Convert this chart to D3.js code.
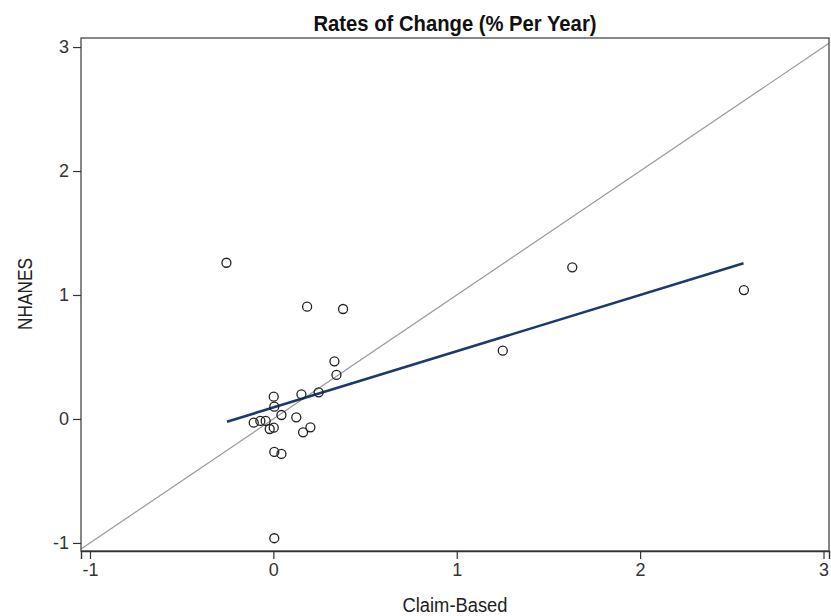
<!DOCTYPE html>
<html><head><meta charset="utf-8">
<script src="https://cdn.jsdelivr.net/npm/d3@7"></script>
<style>body{margin:0;background:#fff;font-family:"Liberation Sans",Arial,sans-serif;}</style>
</head><body><svg id="c" width="831" height="616"></svg>
<script>
const claimBased = [-0.256,0.184,0.380,0.333,0.344,0.247,0.153,0.002,0.005,0.044,0.125,-0.107,-0.071,-0.042,-0.020,0.002,0.162,0.202,0.005,0.044,0.005,1.630,2.566,1.251];
const nhanes     = [1.26,0.906,0.887,0.465,0.355,0.215,0.199,0.180,0.099,0.032,0.013,-0.030,-0.016,-0.016,-0.081,-0.070,-0.108,-0.067,-0.266,-0.282,-0.962,1.223,1.040,0.551];
const fitX = [-0.253, 2.564];
const fitY = [-0.022, 1.256];
const xTicks = [-1,0,1,2,3];
const yTicks = [-1,0,1,2,3];
const title = "Rates of Change (% Per Year)";
const xLabel = "Claim-Based";
const yLabel = "NHANES";

const L=81,R=829,T=38,B=551;
const svg=d3.select("#c");
const x=d3.scaleLinear().domain([-1.049,3.03]).range([L,R]);
const y=d3.scaleLinear().domain([-1.065,3.073]).range([B,T]);

svg.append("defs").append("clipPath").attr("id","clip").append("rect")
  .attr("x",L).attr("y",T).attr("width",R-L).attr("height",B-T);

// diagonal y = x
svg.append("line").attr("clip-path","url(#clip)")
  .attr("x1",x(-1.1)).attr("y1",y(-1.1)).attr("x2",x(3.2)).attr("y2",y(3.2))
  .attr("stroke","#9a9a9a").attr("stroke-width",1.2);

// regression line
svg.append("line")
  .attr("x1",x(fitX[0])).attr("y1",y(fitY[0])).attr("x2",x(fitX[1])).attr("y2",y(fitY[1]))
  .attr("stroke","#1c3a70").attr("stroke-width",2.6);

// points
svg.append("g").selectAll("circle").data(claimBased.map((d,i)=>[d,nhanes[i]])).join("circle")
  .attr("cx",d=>x(d[0])).attr("cy",d=>y(d[1])).attr("r",4.5)
  .attr("fill","none").attr("stroke","#222").attr("stroke-width",1.3);

// frame
svg.append("rect").attr("x",L).attr("y",T).attr("width",R-L).attr("height",B-T)
  .attr("fill","none").attr("stroke","#555").attr("stroke-width",1.4);

// axes
const fmt = d => String(d);
const xa=svg.append("g").attr("transform",`translate(0,${B})`)
  .call(d3.axisBottom(x).tickValues(xTicks).tickSize(8).tickPadding(4).tickFormat(fmt));
const ya=svg.append("g").attr("transform",`translate(${L},0)`)
  .call(d3.axisLeft(y).tickValues(yTicks).tickSize(8).tickPadding(4).tickFormat(fmt));
[xa,ya].forEach(a=>{
  a.attr("font-size",18).attr("font-family","Liberation Sans, Arial, sans-serif");
  a.select(".domain").attr("stroke","#333").attr("stroke-width",1.4);
  a.selectAll(".tick line").attr("stroke","#333").attr("stroke-width",1.2);
  a.selectAll(".tick text").attr("fill","#333").style("font-size","18px");
});
ya.select(".domain").remove();

svg.append("text").attr("x",(L+R)/2).attr("y",31).attr("text-anchor","middle")
  .attr("font-weight","bold").attr("font-size",21.5).attr("fill","#111")
  .attr("textLength",283).attr("lengthAdjust","spacingAndGlyphs").text(title);
svg.append("text").attr("x",(L+R)/2).attr("y",612).attr("text-anchor","middle")
  .attr("font-size",19.5).attr("fill","#222")
  .attr("textLength",105).attr("lengthAdjust","spacingAndGlyphs").text(xLabel);
svg.append("text").attr("transform",`translate(32,294) rotate(-90)`).attr("text-anchor","middle")
  .attr("font-size",19.5).attr("fill","#222")
  .attr("textLength",72).attr("lengthAdjust","spacingAndGlyphs").text(yLabel);
</script></body></html>
